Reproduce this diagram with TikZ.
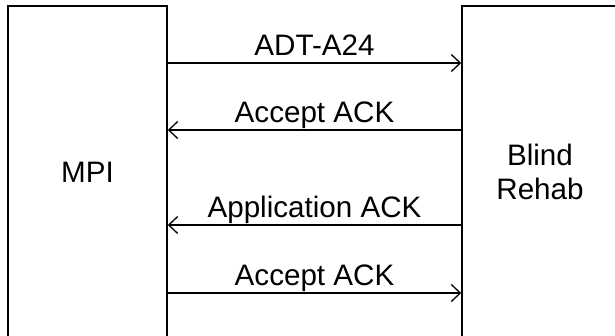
\documentclass[tikz,border=0pt]{standalone}
\usepackage{fontspec}
\setmainfont{Liberation Sans}
\usetikzlibrary{positioning}
\usetikzlibrary{arrows.meta}

\tikzset{
	sysbox/.style={draw, line width=1.5pt, align=center, inner sep=0pt},
	msg/.style={line width=1.3pt, -{Straight Barb[length=9pt,width=17pt,line width=1.3pt]}},
	msglabel/.style={midway, anchor=base, yshift=8pt}
}

\begin{document}
\begin{tikzpicture}[x=1pt, y=-1pt, font=\fontsize{29.6}{34}\selectfont]
	\useasboundingbox (0,0) rectangle (615,335);
	\clip (0,0) rectangle (615,335);
	\node[sysbox, minimum width=159pt, minimum height=332pt] (mpi) at (87.5,172) {MPI};
	\node[sysbox, minimum width=156pt, minimum height=332pt] (rehab) at (540,172) {Blind\\Rehab};
	% messages
	\draw[msg] (mpi.east |- 0,63) -- (rehab.west |- 0,63) node[msglabel] {ADT-A24};
	\draw[msg] (rehab.west |- 0,130) -- (mpi.east |- 0,130) node[msglabel] {Accept ACK};
	\draw[msg] (rehab.west |- 0,225) -- (mpi.east |- 0,225) node[msglabel] {Application ACK};
	\draw[msg] (mpi.east |- 0,293) -- (rehab.west |- 0,293) node[msglabel] {Accept ACK};
\end{tikzpicture}
\end{document}
